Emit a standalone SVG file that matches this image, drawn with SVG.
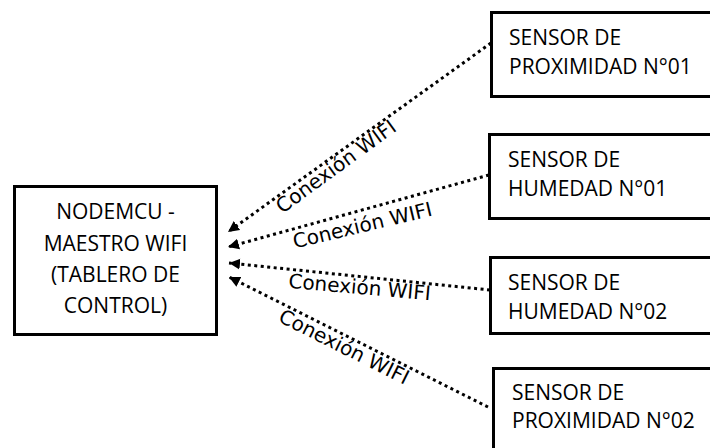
<svg xmlns="http://www.w3.org/2000/svg" width="710" height="448" viewBox="0 0 710 448">
<style>
.box{fill:#fff;stroke:#000;stroke-width:3}
.nt{font-family:"Open Sans","Liberation Sans",sans-serif;font-size:21px;fill:#000}
.c{text-anchor:middle}
.ln{fill:none;stroke:#000;stroke-width:3;stroke-dasharray:3 3.5}
.lb{font-family:"DejaVu Sans",sans-serif;font-size:20px;fill:#000;text-anchor:middle}
</style>
<defs>
<marker id="ah" markerUnits="userSpaceOnUse" markerWidth="12" markerHeight="12" refX="11" refY="6" orient="auto">
<path d="M0,0.5 L11,6 L0,11.5 z" fill="#000"/>
</marker>
</defs>
<rect width="710" height="448" fill="#fff"/>
<g id="connectors">
<line class="ln" x1="491" y1="43" x2="228" y2="232" marker-end="url(#ah)"/>
<line class="ln" x1="489" y1="175" x2="228" y2="247" marker-end="url(#ah)"/>
<line class="ln" x1="490" y1="290" x2="229" y2="263" marker-end="url(#ah)"/>
<line class="ln" x1="488" y1="407" x2="229" y2="277" marker-end="url(#ah)"/>
<text class="lb" transform="translate(340,172) rotate(-36)">Conexión WIFI</text>
<text class="lb" transform="translate(364,232) rotate(-13.4)">Conexión WIFI</text>
<text class="lb" transform="translate(359,294) rotate(5)">Conexión WIFI</text>
<text class="lb" transform="translate(341,353) rotate(26.6)">Conexión WIFI</text>
</g>
<g id="nodemcu">
<rect class="box" x="14.5" y="186.5" width="202" height="148"/>
<text class="nt c" x="115.5" y="219">NODEMCU -</text>
<text class="nt c" x="115.5" y="251">MAESTRO WIFI</text>
<text class="nt c" x="115.5" y="282">(TABLERO DE</text>
<text class="nt c" x="115.5" y="313">CONTROL)</text>
</g>
<g id="sensor-prox-01">
<rect class="box" x="491.5" y="12.5" width="230" height="84"/>
<text class="nt" x="509" y="45">SENSOR DE</text>
<text class="nt" x="509" y="74">PROXIMIDAD N°01</text>
</g>
<g id="sensor-hum-01">
<rect class="box" x="489.5" y="134.5" width="230" height="84"/>
<text class="nt" x="508" y="167">SENSOR DE</text>
<text class="nt" x="508" y="196">HUMEDAD N°01</text>
</g>
<g id="sensor-hum-02">
<rect class="box" x="490.5" y="257.5" width="230" height="76"/>
<text class="nt" x="508" y="290">SENSOR DE</text>
<text class="nt" x="508" y="319">HUMEDAD N°02</text>
</g>
<g id="sensor-prox-02">
<rect class="box" x="493.5" y="368.5" width="230" height="90"/>
<text class="nt" x="512" y="400">SENSOR DE</text>
<text class="nt" x="512" y="428">PROXIMIDAD N°02</text>
</g>
</svg>
